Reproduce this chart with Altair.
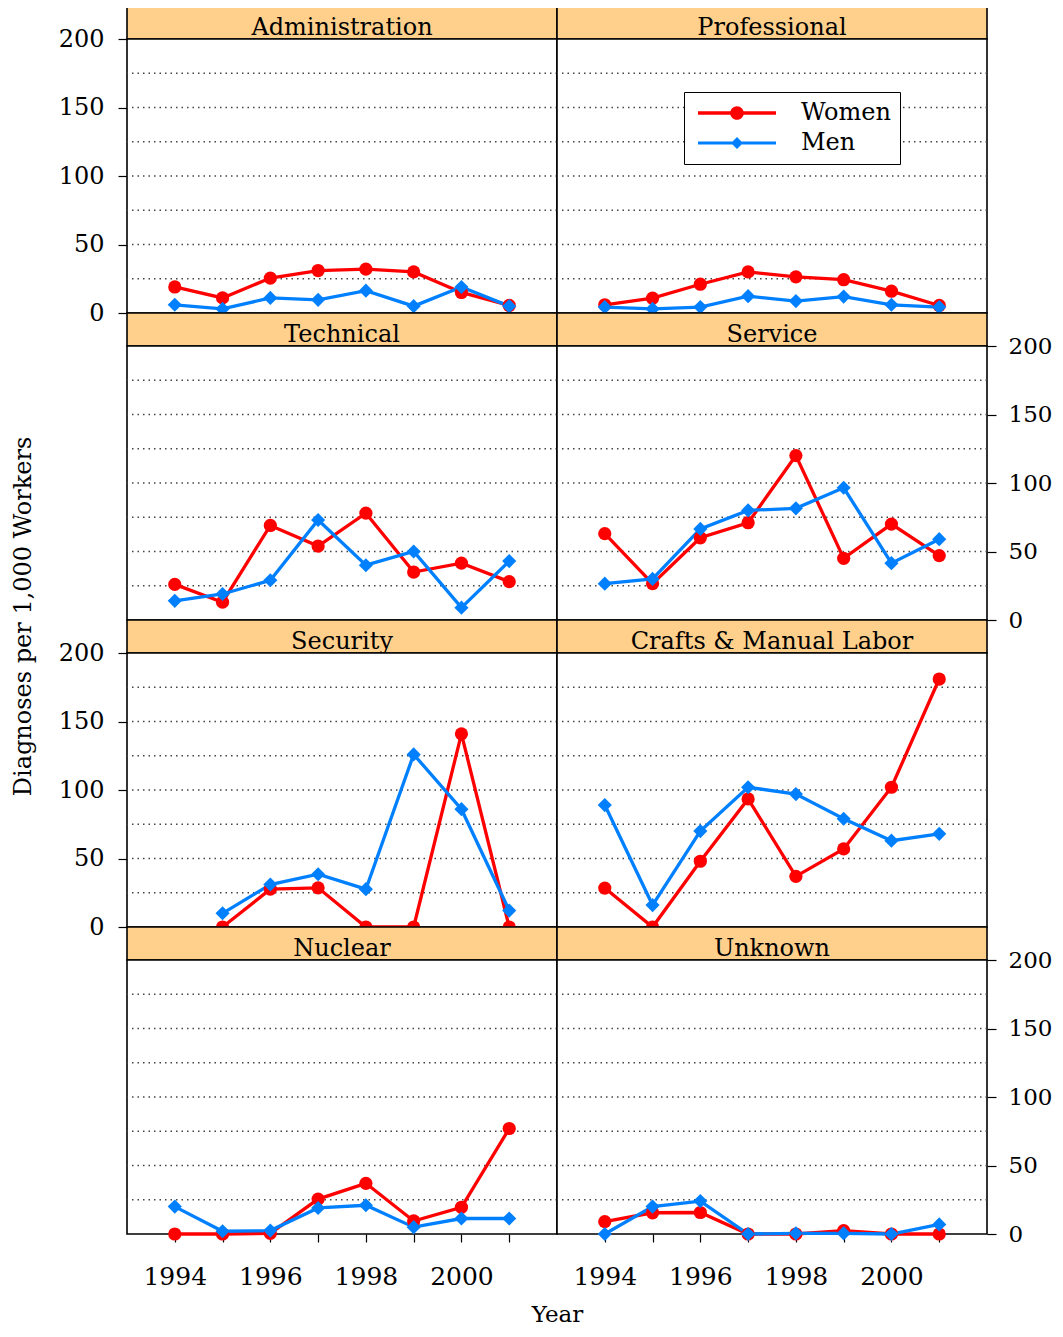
import altair as alt
import pandas as pd

years = [1994, 1995, 1996, 1997, 1998, 1999, 2000, 2001]
panels = ["Administration", "Professional", "Technical", "Service",
          "Security", "Crafts & Manual Labor", "Nuclear", "Unknown"]
series_names = ["Women", "Men"]
series_colors = ["#FF0000", "#0080FF"]

admin_women = [19, 11, 25.5, 31, 32, 30, 15, 5.5]
admin_men = [6, 3, 11, 9.6, 16.3, 5, 19, 5]
prof_women = [6, 10.8, 21, 30, 26.4, 24.3, 15.9, 5.5]
prof_men = [4.3, 3, 4.3, 12.3, 8.7, 12, 6, 4.3]
tech_women = [26, 13, 69, 54, 78, 35, 41.5, 28]
tech_men = [14, 19, 29, 73, 40, 50, 9, 43]
serv_women = [63, 26.5, 60, 71, 120, 45, 70, 47]
serv_men = [26.5, 30, 66.5, 80, 81.5, 96.5, 41.5, 59]
sec_women = [None, 0, 27.6, 28.6, 0, 0, 141, 0]
sec_men = [None, 10, 31, 38.5, 27.6, 126, 86, 12]
craft_women = [28.4, 0, 48, 93.5, 37, 57, 102, 181]
craft_men = [89, 16, 70, 102, 97, 79, 63, 68]
nuc_women = [0, 0, 0.5, 25.5, 37, 9.5, 19.5, 77]
nuc_men = [20, 2, 2.5, 19, 21, 5, 11.3, 11.3]
unk_women = [9, 15.5, 15.7, 0, 0, 2.5, 0, 0]
unk_men = [0, 20, 24, 0, 0.5, 0.5, 0, 7]

grid_values = [25, 50, 75, 100, 125, 150, 175]
y_tick_values = [0, 50, 100, 150, 200]

panel_data = {
    "Administration": (admin_women, admin_men),
    "Professional": (prof_women, prof_men),
    "Technical": (tech_women, tech_men),
    "Service": (serv_women, serv_men),
    "Security": (sec_women, sec_men),
    "Crafts & Manual Labor": (craft_women, craft_men),
    "Nuclear": (nuc_women, nuc_men),
    "Unknown": (unk_women, unk_men),
}

rows = []
for p in panels:
    w, m = panel_data[p]
    for yr, v in zip(years, w):
        rows.append({"panel": p, "year": yr, "series": "Women", "value": v})
    for yr, v in zip(years, m):
        rows.append({"panel": p, "year": yr, "series": "Men", "value": v})
df = pd.DataFrame(rows)
grid_df = pd.DataFrame({"g": grid_values})

FONT = "DejaVu Serif"
PW, PH, SH = 430, 274, 33

xs = alt.Scale(domain=[1993, 2002], nice=False, zero=False)
ys = alt.Scale(domain=[0, 200], nice=False)
cs = alt.Scale(domain=series_names, range=series_colors)

# custom legend symbols: line with marker (unit = sqrt(symbolSize)/2 = 8 px)
path_w = ("M-0.875,-0.22 L4.3,-0.22 L4.3,0.22 L-0.875,0.22 Z "
          "M3.7,-0.22 L8.875,-0.22 L8.875,0.22 L3.7,0.22 Z "
          "M4.85,0 A0.85,0.85 0 1,1 3.15,0 A0.85,0.85 0 1,1 4.85,0 Z")
path_m = ("M-0.875,-0.2 L8.875,-0.2 L8.875,0.2 L-0.875,0.2 Z "
          "M4.0,-0.75 L4.75,0 L4.0,0.75 L3.25,0 Z")


def y_axis(side, title=False):
    if side is None:
        return None
    kw = dict(orient=side, values=y_tick_values, tickSize=9,
              labelPadding=14 if side == "left" else 12,
              labelFontSize=24 if side == "left" else 23,
              labelFont=FONT, domain=False, grid=False,
              tickColor="black", labelColor="black", tickWidth=1.2)
    if title:
        kw.update(title="Diagnoses per 1,000 Workers", titleFont=FONT,
                  titleFontSize=24, titleFontWeight="normal", titleX=-104,
                  titleY=-37, titleAngle=270, titleAlign="center",
                  titleBaseline="middle", titleColor="black")
    else:
        kw.update(title=None)
    return alt.Axis(**kw)


def x_axis(show, title=False):
    if not show:
        return None
    kw = dict(orient="bottom", values=years, tickSize=8, labelPadding=22,
              labelFontSize=25, labelFont=FONT, domain=False, grid=False,
              tickColor="black", labelColor="black", tickWidth=1.2,
              labelExpr="datum.value % 2 == 0 ? format(datum.value, 'd') : ''")
    if title:
        kw.update(title="Year", titleFont=FONT, titleFontSize=23,
                  titleFontWeight="normal", titleX=430, titleY=80,
                  titleAlign="center", titleBaseline="middle",
                  titleColor="black")
    else:
        kw.update(title=None)
    return alt.Axis(**kw)


def strip(name):
    return alt.Chart(pd.DataFrame({"label": [name]})).mark_text(
        font=FONT, fontSize=24, color="black", baseline="middle"
    ).encode(
        text="label:N", x=alt.value(PW / 2), y=alt.value(SH / 2 + 5)
    ).properties(
        width=PW, height=SH,
        view=alt.ViewBackground(fill="#FFD08C", stroke="black", strokeWidth=1.6)
    )


def panel(name, yside=None, ytitle=False, xshow=False, xtitle=False, legend=False):
    ya = y_axis(yside, ytitle)
    xa = x_axis(xshow, xtitle)
    X = alt.X("year:Q", scale=xs, axis=xa)
    Y = alt.Y("value:Q", scale=ys, axis=ya)
    base = alt.Chart(df).transform_filter(alt.datum.panel == name)
    grid = alt.Chart(grid_df).mark_rule(
        strokeDash=[1.5, 4], color="#444", strokeWidth=1.4
    ).encode(y=alt.Y("g:Q", scale=ys, axis=ya))
    wbase = base.transform_filter(alt.datum.series == "Women")
    mbase = base.transform_filter(alt.datum.series == "Men")
    wline = wbase.mark_line(strokeWidth=3.3, color="#FF0000").encode(x=X, y=Y)
    mline = mbase.mark_line(strokeWidth=3.3, color="#0080FF").encode(x=X, y=Y)
    women = wbase.mark_circle(size=175, opacity=1, color="#FF0000").encode(x=X, y=Y)
    men = mbase.mark_point(
        shape="diamond", filled=True, size=200, opacity=1, color="#0080FF"
    ).encode(x=X, y=Y)
    layers = [grid, wline, mline, women, men]
    if legend:
        leg = alt.Legend(title=None, orient="none", legendX=557, legendY=86,
                         symbolSize=256, symbolStrokeWidth=0, symbolOpacity=1,
                         labelFontSize=24, labelFont=FONT, labelColor="black",
                         labelOffset=84, padding=9, strokeColor="black",
                         fillColor="white", rowPadding=6)
        leg_layer = alt.Chart(df).transform_filter("false").mark_point(
            filled=True, opacity=1
        ).encode(
            x=X, y=Y,
            color=alt.Color("series:N", scale=cs, legend=leg),
            shape=alt.Shape("series:N",
                            scale=alt.Scale(domain=series_names, range=[path_w, path_m]),
                            legend=leg),
        )
        layers.append(leg_layer)
    return alt.layer(*layers).properties(
        width=PW, height=PH,
        view=alt.ViewBackground(fill="white", stroke="black", strokeWidth=1.6)
    )


cells = [
    strip("Administration"), strip("Professional"),
    panel("Administration", yside="left"), panel("Professional", legend=True),
    strip("Technical"), strip("Service"),
    panel("Technical"), panel("Service", yside="right"),
    strip("Security"), strip("Crafts & Manual Labor"),
    panel("Security", yside="left", ytitle=True), panel("Crafts & Manual Labor"),
    strip("Nuclear"), strip("Unknown"),
    panel("Nuclear", xshow=True, xtitle=True),
    panel("Unknown", yside="right", xshow=True),
]

chart = alt.concat(
    *cells, columns=2, spacing=0, bounds="flush", align="each"
).properties(
    padding={"left": 2, "top": -3, "right": 0, "bottom": 0}
).configure(font=FONT)

chart.save("out.html", embed_options={"renderer": "svg", "actions": False})
